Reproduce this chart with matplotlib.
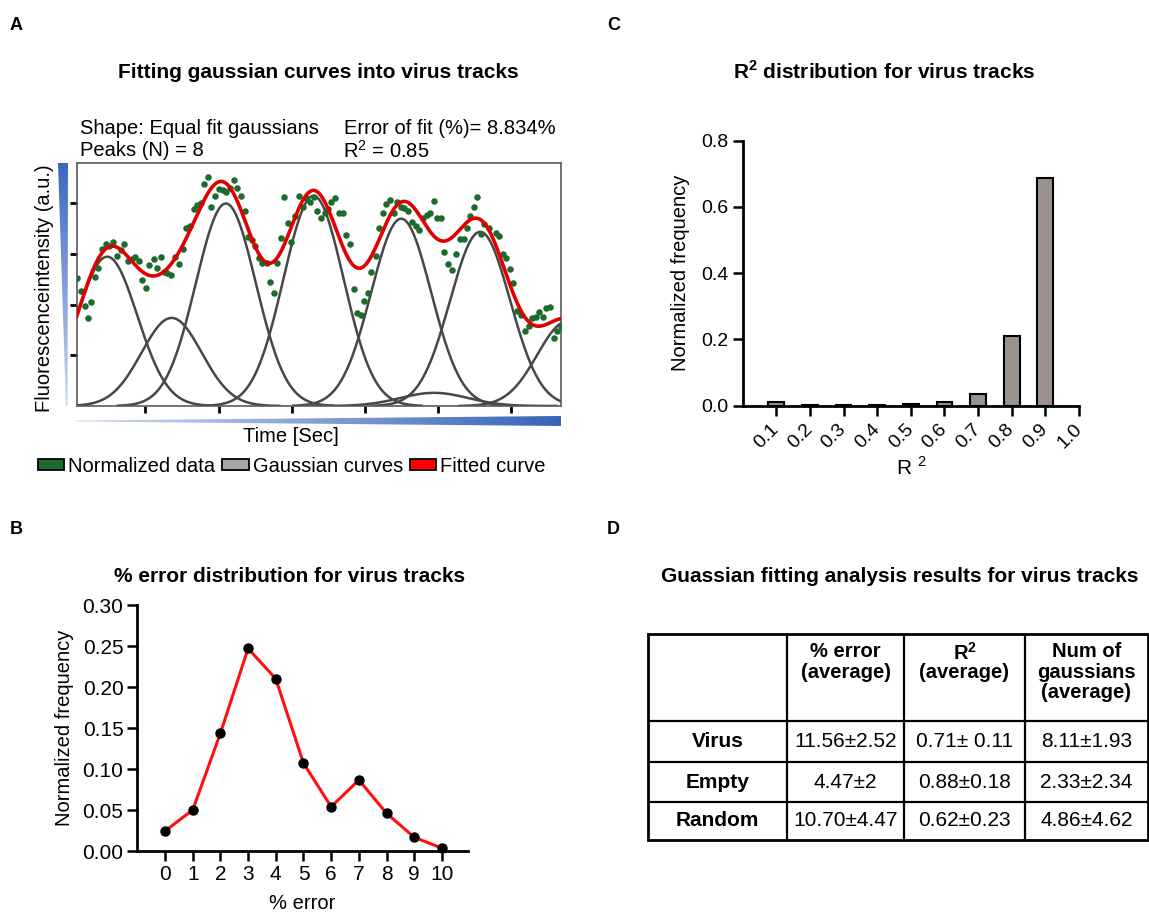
import numpy as np
import matplotlib
matplotlib.use('Agg')
import matplotlib.pyplot as plt
from matplotlib.patches import Polygon, Rectangle, Patch
from matplotlib.colors import LinearSegmentedColormap

plt.rcParams['font.family'] = ['Liberation Sans', 'DejaVu Sans']
plt.rcParams['mathtext.fontset'] = 'custom'
plt.rcParams['mathtext.rm'] = 'Liberation Sans'
plt.rcParams['mathtext.bf'] = 'Liberation Sans:bold'

W, H = 1149, 913

# ---- panel A: one virus track (time in % of track, intensity a.u.)
track_x = [0.13, 0.96, 1.65, 2.33, 3.02, 3.85, 4.40, 5.22, 6.05, 6.74, 7.56, 8.39, 9.22, 9.83,
           10.59, 11.42, 12.11, 12.80, 13.55, 14.31, 15.00, 15.96, 16.65, 17.34, 18.03, 18.71,
           19.54, 20.37, 21.05, 21.88, 22.64, 23.39, 24.15, 24.91, 25.60, 26.35, 27.11, 27.80,
           28.62, 29.38, 30.14, 30.90, 31.65, 32.41, 33.17, 33.86, 34.68, 35.37, 36.20, 36.88,
           37.57, 38.26, 39.29, 39.98, 40.67, 41.43, 42.12, 42.87, 43.56, 44.32, 45.01, 45.83,
           46.73, 47.41, 48.24, 48.93, 49.69, 50.37, 51.20, 51.89, 52.58, 53.40, 54.23, 54.99,
           55.67, 56.50, 57.19, 57.88, 58.63, 59.32, 60.08, 60.84, 61.73, 62.49, 63.25, 63.93,
           64.69, 65.45, 66.21, 66.89, 67.65, 68.41, 69.17, 69.99, 70.75, 71.51, 72.26, 72.95,
           73.71, 74.46, 75.22, 75.91, 76.60, 77.56, 78.32, 79.15, 79.90, 80.52, 81.21, 81.97,
           82.66, 83.41, 84.17, 85.07, 86.51, 87.27, 88.03, 88.71, 89.47, 90.16, 90.92, 91.67,
           92.57, 93.32, 94.08, 94.84, 95.53, 96.21, 96.97, 97.80, 98.49, 99.17, 99.9]
track_y = [2.52, 2.27, 1.98, 1.73, 2.06, 2.55, 2.72, 3.10, 3.20, 3.17, 3.23, 2.97, 3.09, 3.20,
           2.87, 2.90, 2.95, 2.87, 2.49, 2.33, 2.79, 2.91, 2.72, 2.94, 2.64, 2.62,
           2.59, 2.95, 2.80, 3.10, 3.52, 3.56, 3.89, 3.97, 4.01, 4.38, 4.53, 3.94,
           4.15, 4.29, 4.27, 4.22, 4.30, 4.46, 4.30, 4.15, 3.86, 3.33, 3.28, 3.17,
           2.93, 2.83, 2.83, 2.44, 2.24, 2.83, 3.31, 4.12, 3.61, 3.24, 3.75, 4.14,
           3.94, 4.11, 4.02, 4.12, 3.86, 3.71, 3.82, 3.90, 4.03, 4.10, 3.81, 3.81,
           3.37, 3.20, 2.31, 1.83, 1.79, 2.08, 2.23, 2.65, 2.97, 3.51, 3.81, 3.99,
           4.07, 3.81, 4.02, 3.94, 3.91, 3.85, 3.63, 3.56, 3.48, 3.71, 3.77, 3.82,
           4.05, 3.71, 3.72, 3.04, 2.81, 2.69, 3.00, 3.30, 3.30, 3.52, 3.76, 3.94,
           4.12, 3.40, 3.59, 3.52, 3.41, 3.36, 3.00, 2.93, 2.71, 2.42, 1.88, 1.79,
           1.49, 1.58, 1.73, 1.75, 1.86, 1.75, 1.93, 1.96, 1.35, 1.49, 1.59]
peak_centers = [6.3, 19.6, 30.8, 48.9, 67.0, 73.8, 83.3, 101.3]
peak_heights = [2.95, 1.74, 4.00, 4.15, 3.70, 0.26, 3.44, 1.67]
peak_widths = [6.2, 6.2, 6.2, 6.2, 6.2, 7.0, 6.2, 6.2]
time_ticks = [14.2, 29.3, 44.4, 59.5, 74.6, 89.7]
intensity_ticks = [1, 2, 3, 4]

# ---- panel B
error_bins = [0, 1, 2, 3, 4, 5, 6, 7, 8, 9, 10]
error_freq = [0.0244, 0.050, 0.1435, 0.247, 0.210, 0.107, 0.054, 0.0866, 0.046, 0.0167, 0.0035]

# ---- panel C
r2_bins = [0.1, 0.2, 0.3, 0.4, 0.5, 0.6, 0.7, 0.8, 0.9]
r2_freq = [0.012, 0.002, 0.002, 0.002, 0.006, 0.012, 0.034, 0.210, 0.688]
r2_ticks = [0.1, 0.2, 0.3, 0.4, 0.5, 0.6, 0.7, 0.8, 0.9, 1.0]

# ---- panel D
col_heads = ['% error\n(average)', 'R$^{\\mathbf{2}}$\n(average)', 'Num of\ngaussians\n(average)']
row_names = ['Virus', 'Empty', 'Random']
err_avg = ['11.56±2.52', '4.47±2', '10.70±4.47']
r2_avg = ['0.71± 0.11', '0.88±0.18', '0.62±0.23']
ngauss_avg = ['8.11±1.93', '2.33±2.34', '4.86±4.62']

FS = 14.5


def rect(l, t, r, b):
    return [l / W, 1 - b / H, (r - l) / W, (b - t) / H]


fig = plt.figure(figsize=(W / 100, H / 100), dpi=100)

# overlay in pixel coordinates for labels, wedges and the table
ov = fig.add_axes([0, 0, 1, 1])
ov.set_xlim(0, W)
ov.set_ylim(H, 0)
ov.axis('off')

for lab, x, y in [('A', 10, 25), ('B', 10, 530), ('C', 607, 25), ('D', 607, 530)]:
    ov.text(x, y, lab, fontsize=13, fontweight='bold', va='center', ha='left')


def wedge(pts, c0, c1, horiz):
    poly = Polygon(pts, closed=True, fc='none', ec='none')
    ov.add_patch(poly)
    xs_ = [p[0] for p in pts]
    ys_ = [p[1] for p in pts]
    grad = np.linspace(0, 1, 256)
    grad = grad[None, :] if horiz else grad[:, None]
    cmap = LinearSegmentedColormap.from_list('w', [c0, c1])
    im = ov.imshow(grad, cmap=cmap, aspect='auto', interpolation='bilinear',
                   extent=(min(xs_), max(xs_), max(ys_), min(ys_)))
    im.set_clip_path(poly)


wedge([(58, 163), (68, 163), (67.5, 406), (66, 406)], '#3a68bf', '#c9d7ef', False)
wedge([(76, 420.5), (561, 416), (561, 426), (76, 421.5)], '#d0dcf0', '#3764b8', True)
ov.set_xlim(0, W)
ov.set_ylim(H, 0)

# ---- panel A
ax = fig.add_axes(rect(76.7, 163, 561, 406))
xs = np.linspace(0, 100, 800)
fit = np.zeros_like(xs)
for c, h, s in zip(peak_centers, peak_heights, peak_widths):
    g = h * np.exp(-0.5 * ((xs - c) / s) ** 2)
    fit += g
    m = (xs > c - 3.6 * s) & (xs < c + 3.6 * s)
    ax.plot(xs[m], g[m], color='#474747', lw=1.8, zorder=2)
ax.scatter(track_x, track_y, s=22, color='#1c6a2c', zorder=3, linewidths=0)
ax.plot(xs, fit, color='#e00000', lw=2.6, zorder=4)
ax.set_xlim(0, 100)
ax.set_ylim(0, 4.8)
ax.set_xticks(time_ticks)
ax.set_yticks(intensity_ticks)
ax.tick_params(length=5, width=2, labelbottom=False, labelleft=False, color='black')
for sp in ax.spines.values():
    sp.set_color('#5a5a5a')
    sp.set_linewidth(1.2)

ov.text(318, 73, 'Fitting gaussian curves into virus tracks', fontsize=15, fontweight='bold',
        ha='center', va='center')
ov.text(80, 128, 'Shape: Equal fit gaussians', fontsize=FS, va='center')
ov.text(80, 151, 'Peaks (N) = 8', fontsize=FS, va='center')
ov.text(344, 128, 'Error of fit (%)= 8.834%', fontsize=FS, va='center')
ov.text(343, 151, 'R$^2$ = 0.85', fontsize=FS, va='center')
ov.text(45, 288, 'Fluorescenceintensity (a.u.)', fontsize=FS, rotation=90, ha='center', va='center')
ov.text(291, 436, 'Time [Sec]', fontsize=FS, ha='center', va='center')

handles = [Patch(fc='#1c6a2c', ec='black', lw=1.3), Patch(fc='#a6a6a6', ec='black', lw=1.3),
           Patch(fc='#ff0000', ec='black', lw=1.3)]
fig.legend(handles, ['Normalized data', 'Gaussian curves', 'Fitted curve'], ncol=3,
           loc='center left', bbox_to_anchor=(38 / W, 1 - 466 / H), frameon=False,
           fontsize=FS, handlelength=1.3, handleheight=0.5, handletextpad=0.2,
           columnspacing=0.35, borderpad=0, borderaxespad=0)

# ---- panel C
axc = fig.add_axes(rect(742.7, 140.7, 1079, 405.7))
axc.bar(r2_bins, r2_freq, width=0.047, color='#9b928e', edgecolor='black', lw=1.5, zorder=2)
axc.set_xlim(0, 1.0)
axc.set_ylim(0, 0.8)
axc.set_yticks([0.0, 0.2, 0.4, 0.6, 0.8])
axc.set_yticklabels(['0.0', '0.2', '0.4', '0.6', '0.8'])
axc.set_xticks(r2_ticks)
axc.set_xticklabels(['%.1f' % v for v in r2_ticks], rotation=45, ha='right', va='center',
                    rotation_mode='anchor')
axc.tick_params(labelsize=14, length=7, width=1.8, pad=3)
axc.tick_params(axis='x', pad=8)
axc.spines[['top', 'right']].set_visible(False)
axc.spines[['left', 'bottom']].set_linewidth(2)
axc.set_ylabel('Normalized frequency', fontsize=FS, labelpad=8)
axc.set_xlabel('R $^{2}$', fontsize=15, labelpad=3)
ov.text(884, 72, 'R$^{\\mathbf{2}}$ distribution for virus tracks', fontsize=15,
        fontweight='bold', ha='center', va='center')

# ---- panel B
axb = fig.add_axes(rect(137.3, 605, 468, 851))
axb.plot(error_bins, error_freq, color='#ff1010', lw=2.2, marker='o', ms=6.5,
         mfc='black', mec='black', zorder=3, clip_on=False)
axb.set_xlim(-1, 10.94)
axb.set_ylim(0, 0.30)
axb.set_yticks([0.0, 0.05, 0.10, 0.15, 0.20, 0.25, 0.30])
axb.set_yticklabels(['%.2f' % v for v in [0.0, 0.05, 0.10, 0.15, 0.20, 0.25, 0.30]])
axb.set_xticks(error_bins)
axb.tick_params(labelsize=15, length=7, width=1.8, pad=3)
axb.spines[['top', 'right']].set_visible(False)
axb.spines[['left', 'bottom']].set_linewidth(2)
axb.set_ylabel('Normalized frequency', fontsize=FS, labelpad=6)
axb.set_xlabel('% error', fontsize=FS, labelpad=7)
ov.text(290, 577, '% error distribution for virus tracks', fontsize=15, fontweight='bold',
        ha='center', va='center')

# ---- panel D: table
ov.text(900, 577, 'Guassian fitting analysis results for virus tracks', fontsize=15,
        fontweight='bold', ha='center', va='center')
cols = [648, 787, 904, 1025, 1148]
rows = [634, 721, 762, 802, 840]
ov.add_patch(Rectangle((cols[0], rows[0]), cols[-1] - cols[0], rows[-1] - rows[0],
                       fc='none', ec='black', lw=2))
ov.vlines(cols[1:-1], rows[0], rows[-1], color='black', lw=1.6)
ov.hlines(rows[1:-1], cols[0], cols[-1], color='black', lw=1.6)
col_mid = [(cols[i] + cols[i + 1]) / 2 for i in range(4)]
row_mid = [(rows[i] + rows[i + 1]) / 2 for i in range(4)]
for j, head in enumerate(col_heads):
    ov.text(col_mid[j + 1], 642, head, fontsize=FS, fontweight='bold', ha='center', va='top',
            linespacing=1.1 if j != 1 else 0.95)
for i, name in enumerate(row_names):
    y = row_mid[i + 1]
    ov.text(col_mid[0], y, name, fontsize=15, fontweight='bold', ha='center', va='center')
    ov.text(col_mid[1], y, err_avg[i], fontsize=15, ha='center', va='center')
    ov.text(col_mid[2], y, r2_avg[i], fontsize=15, ha='center', va='center')
    ov.text(col_mid[3], y, ngauss_avg[i], fontsize=15, ha='center', va='center')

fig.savefig('out.png', dpi=100)
